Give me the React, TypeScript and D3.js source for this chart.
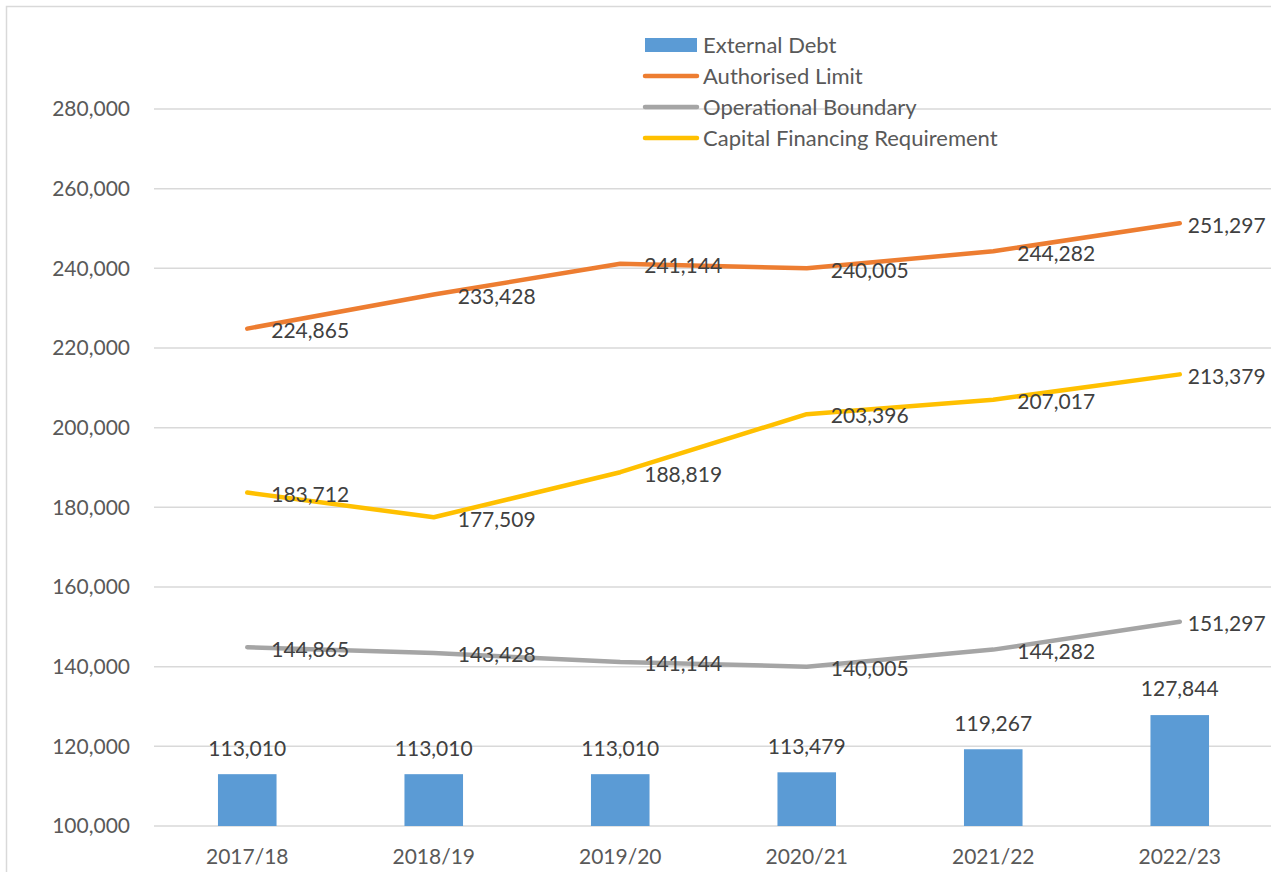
import React from "react";
import * as d3 from "d3";

const categories = ["2017/18", "2018/19", "2019/20", "2020/21", "2021/22", "2022/23"];
const externalDebt = [113010, 113010, 113010, 113479, 119267, 127844];
const authorisedLimit = [224865, 233428, 241144, 240005, 244282, 251297];
const operationalBoundary = [144865, 143428, 141144, 140005, 144282, 151297];
const capitalFinancing = [183712, 177509, 188819, 203396, 207017, 213379];
const yTicks = [100000, 120000, 140000, 160000, 180000, 200000, 220000, 240000, 260000, 280000];

const lineSeries = [
  { name: "Authorised Limit", values: authorisedLimit, color: "#ED7D31" },
  { name: "Operational Boundary", values: operationalBoundary, color: "#A5A5A5" },
  { name: "Capital Financing Requirement", values: capitalFinancing, color: "#FFC000" },
];

const W = 1271;
const H = 872;
const FONT = "Lato, 'Open Sans', sans-serif";
const fmt = d3.format(",");

export default function App() {
  const x = d3.scaleBand<string>().domain(categories).range([154, 1273]).padding(0);
  const y = d3.scaleLinear().domain([100000, 280000]).range([826, 109]);
  const cx = (c: string) => (x(c) as number) + x.bandwidth() / 2;
  const barW = x.bandwidth() * 0.314;
  const line = d3
    .line<number>()
    .x((_, i) => cx(categories[i]))
    .y((v) => y(v));

  return (
    <svg
      width={W}
      height={H}
      style={{ position: "absolute", left: 0, top: 0, background: "#fff" }}
      fontFamily={FONT}
    >
      <rect x={6.5} y={6.5} width={1400} height={1000} fill="#fff" stroke="#d9d9d9" strokeWidth={1.5} />
      {/* gridlines */}
      {yTicks.map((t) => (
        <line key={t} x1={154} x2={1273} y1={y(t)} y2={y(t)} stroke="#d9d9d9" strokeWidth={1.5} />
      ))}
      {/* y tick labels */}
      {yTicks.map((t) => (
        <text key={t} x={130} y={y(t)} dy="0.35em" textAnchor="end" fontSize={21} fill="#595959">
          {fmt(t)}
        </text>
      ))}
      {/* x labels */}
      {categories.map((c) => (
        <text key={c} x={cx(c)} y={857} dy="0.35em" textAnchor="middle" fontSize={21} fill="#595959">
          {c}
        </text>
      ))}
      {/* bars */}
      {categories.map((c, i) => (
        <rect
          key={c}
          x={cx(c) - barW / 2}
          y={y(externalDebt[i])}
          width={barW}
          height={y(100000) - y(externalDebt[i])}
          fill="#5B9BD5"
        />
      ))}
      {categories.map((c, i) => (
        <text
          key={c}
          x={cx(c)}
          y={y(externalDebt[i]) - 26}
          dy="0.35em"
          textAnchor="middle"
          fontSize={21}
          fill="#404040"
        >
          {fmt(externalDebt[i])}
        </text>
      ))}
      {/* lines */}
      {lineSeries.map((s) => (
        <path
          key={s.name}
          d={line(s.values) as string}
          fill="none"
          stroke={s.color}
          strokeWidth={4.5}
          strokeLinecap="round"
          strokeLinejoin="round"
        />
      ))}
      {lineSeries.map((s) =>
        s.values.map((v, i) => (
          <text
            key={s.name + i}
            x={cx(categories[i]) + (i === categories.length - 1 ? 8 : 24)}
            y={y(v) + 2}
            dy="0.35em"
            textAnchor="start"
            fontSize={21}
            fill="#404040"
          >
            {fmt(v)}
          </text>
        ))
      )}
      {/* legend */}
      <g>
        <rect x={645} y={38} width={52} height={14} fill="#5B9BD5" />
        <text x={703} y={45} dy="0.35em" fontSize={22} fill="#595959">External Debt</text>
        {lineSeries.map((s, i) => (
          <g key={s.name}>
            <line
              x1={645}
              x2={697}
              y1={76 + i * 31}
              y2={76 + i * 31}
              stroke={s.color}
              strokeWidth={4.5}
              strokeLinecap="round"
            />
            <text x={703} y={76 + i * 31} dy="0.35em" fontSize={22} fill="#595959">
              {s.name}
            </text>
          </g>
        ))}
      </g>
    </svg>
  );
}
